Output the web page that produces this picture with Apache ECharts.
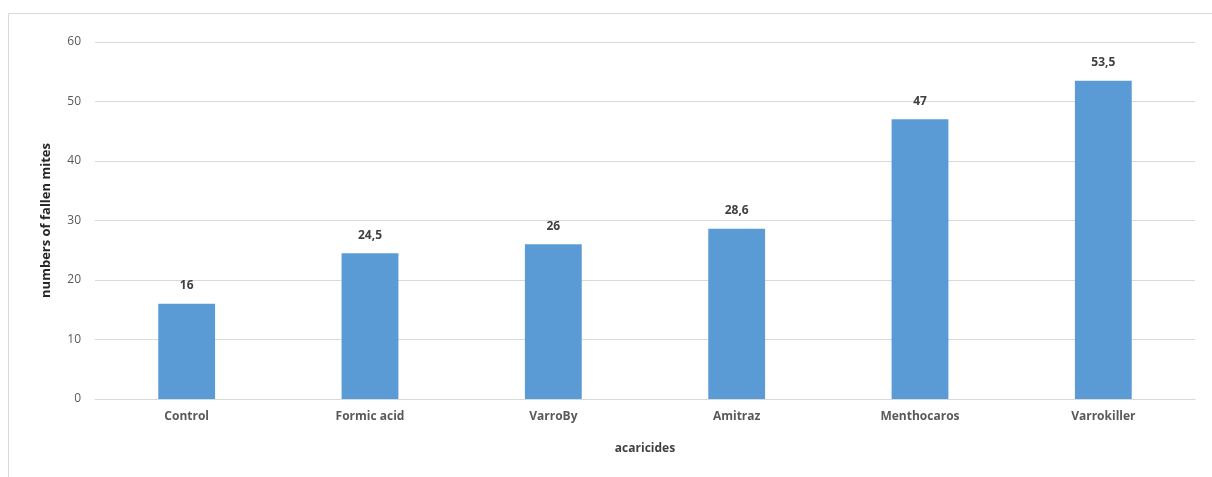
<!DOCTYPE html>
<html>
<head>
<meta charset="utf-8">
<script src="https://cdn.jsdelivr.net/npm/echarts@6/dist/echarts.min.js"></script>
<style>
  html, body { margin: 0; padding: 0; background: #fff; }
  #chart { width: 1212px; height: 477px; }
</style>
</head>
<body>
<div id="chart"></div>
<script>
// data
const categories = ['Control', 'Formic acid', 'VarroBy', 'Amitraz', 'Menthocaros', 'Varrokiller'];
const fallenMites = [16, 24.5, 26, 28.6, 47, 53.5];

const fontFamily = '"Open Sans", Lato, sans-serif';

const chart = echarts.init(document.getElementById('chart'));

chart.setOption({
  animation: false,
  graphic: [
    {
      type: 'rect',
      shape: { x: 8.5, y: 13.5, width: 1220, height: 480 },
      style: { fill: 'none', stroke: '#d9d9d9', lineWidth: 1 },
      silent: true,
    },
  ],
  grid: {
    left: 95,
    right: 17,
    top: 42,
    bottom: 78,
  },
  xAxis: {
    type: 'category',
    data: categories,
    name: 'acaricides',
    nameLocation: 'middle',
    nameGap: 44,
    nameTextStyle: { color: '#404040', fontWeight: 'bold', fontSize: 12, fontFamily },
    axisLine: { lineStyle: { color: '#d9d9d9' } },
    axisTick: { show: false },
    axisLabel: { color: '#595959', fontWeight: 'bold', fontSize: 12, fontFamily, margin: 12 },
  },
  yAxis: {
    type: 'value',
    min: 0,
    max: 60,
    interval: 10,
    name: 'numbers of fallen mites',
    nameLocation: 'middle',
    nameGap: 42,
    nameTextStyle: { color: '#262626', fontWeight: 'bold', fontSize: 13, fontFamily },
    axisLine: { show: false },
    axisTick: { show: false },
    axisLabel: { color: '#595959', fontSize: 12, fontFamily, margin: 14 },
    splitLine: { lineStyle: { color: '#d9d9d9' } },
  },
  series: [
    {
      type: 'bar',
      data: fallenMites,
      barWidth: '31%',
      itemStyle: { color: '#5b9bd5' },
      label: {
        show: true,
        position: 'top',
        distance: 12,
        color: '#404040',
        fontWeight: 'bold',
        fontSize: 12,
        fontFamily,
        formatter: (p) => String(p.value).replace('.', ','),
      },
    },
  ],
});
</script>
</body>
</html>
